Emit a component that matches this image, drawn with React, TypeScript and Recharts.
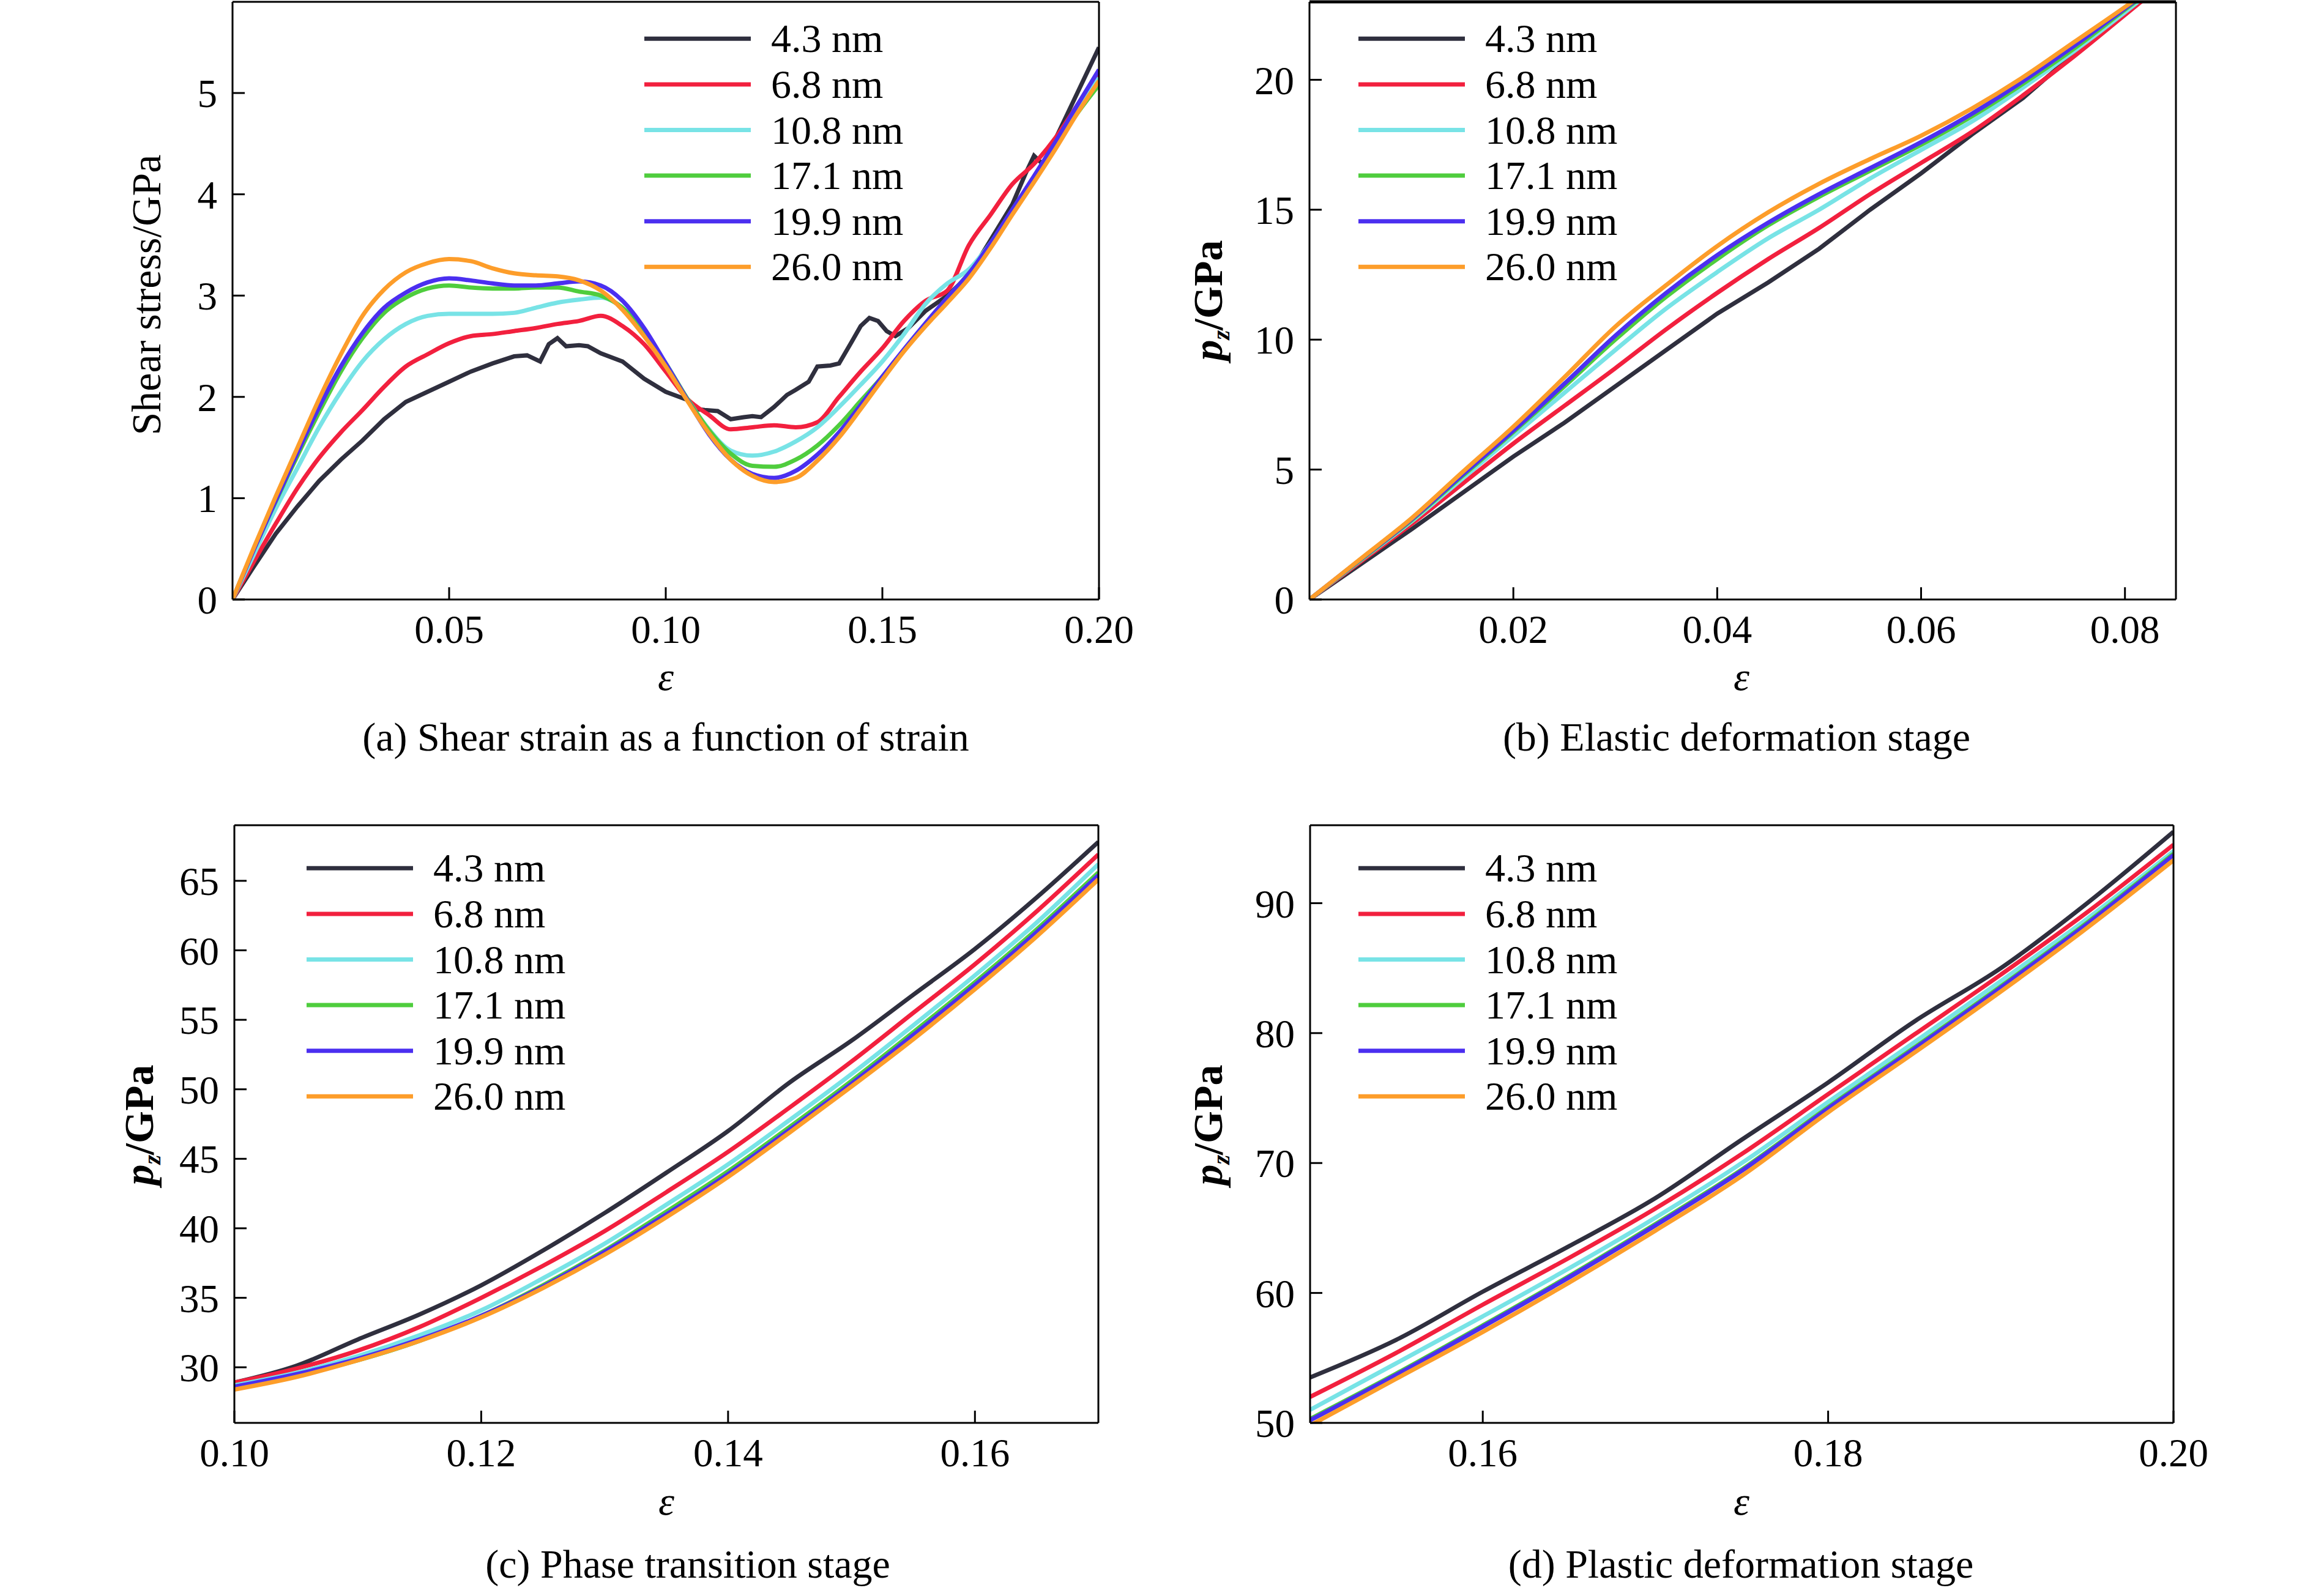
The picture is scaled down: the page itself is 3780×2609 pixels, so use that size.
import React from 'react';
import { LineChart, Line, XAxis, YAxis, Legend, ReferenceLine } from 'recharts';

const FONT = "'Liberation Serif', 'Times New Roman', Times, serif";

const seriesNames = ['4.3 nm', '6.8 nm', '10.8 nm', '17.1 nm', '19.9 nm', '26.0 nm'];
const seriesColors = ['#2f2f3e', '#f2203e', '#78e3e6', '#4fcd3d', '#4b2ff0', '#fd9d2a'];

// ---------- (a) shear stress vs strain ----------
const strainA = [0, 0.005, 0.01, 0.015, 0.02, 0.025, 0.03, 0.035, 0.04, 0.045, 0.05, 0.055, 0.06, 0.065, 0.07, 0.075, 0.08, 0.085, 0.09, 0.095, 0.1, 0.105, 0.11, 0.115, 0.12, 0.125, 0.13, 0.135, 0.14, 0.145, 0.15, 0.155, 0.16, 0.165, 0.17, 0.175, 0.18, 0.185, 0.19, 0.195, 0.2];
const strainA43 = [0, 0.005, 0.01, 0.015, 0.02, 0.025, 0.03, 0.035, 0.04, 0.045, 0.05, 0.055, 0.06, 0.065, 0.068, 0.071, 0.073, 0.075, 0.077, 0.08, 0.082, 0.085, 0.09, 0.095, 0.1, 0.105, 0.107, 0.109, 0.112, 0.115, 0.118, 0.12, 0.122, 0.125, 0.128, 0.13, 0.133, 0.135, 0.138, 0.14, 0.143, 0.145, 0.147, 0.149, 0.151, 0.153, 0.156, 0.16, 0.165, 0.17, 0.175, 0.18, 0.183, 0.185, 0.187, 0.19, 0.195, 0.2];
const shearA43 = [0, 0.33, 0.65, 0.92, 1.17, 1.38, 1.57, 1.78, 1.95, 2.05, 2.15, 2.25, 2.33, 2.4, 2.41, 2.35, 2.52, 2.58, 2.5, 2.51, 2.5, 2.43, 2.35, 2.18, 2.05, 1.97, 1.88, 1.87, 1.86, 1.78, 1.8, 1.81, 1.8, 1.9, 2.02, 2.07, 2.15, 2.3, 2.31, 2.33, 2.55, 2.7, 2.78, 2.75, 2.65, 2.6, 2.68, 2.85, 3.0, 3.2, 3.55, 3.9, 4.2, 4.38, 4.3, 4.55, 5.0, 5.45];
const shearA68 = [0, 0.38, 0.75, 1.1, 1.4, 1.65, 1.87, 2.1, 2.3, 2.42, 2.53, 2.6, 2.62, 2.65, 2.68, 2.72, 2.75, 2.8, 2.7, 2.52, 2.25, 1.98, 1.82, 1.68, 1.7, 1.72, 1.7, 1.75, 2.0, 2.25, 2.48, 2.75, 2.95, 3.05, 3.5, 3.8, 4.1, 4.3, 4.56, 4.88, 5.2];
const shearA108 = [0, 0.45, 0.9, 1.3, 1.7, 2.05, 2.35, 2.57, 2.72, 2.8, 2.82, 2.82, 2.82, 2.83, 2.88, 2.93, 2.96, 2.98, 2.88, 2.63, 2.33, 1.98, 1.68, 1.47, 1.42, 1.46, 1.56, 1.7, 1.9, 2.12, 2.35, 2.62, 2.92, 3.12, 3.26, 3.52, 3.84, 4.16, 4.5, 4.84, 5.15];
const shearA171 = [0, 0.5, 0.97, 1.42, 1.85, 2.25, 2.58, 2.83, 2.98, 3.07, 3.1, 3.08, 3.07, 3.07, 3.08, 3.08, 3.04, 3.0, 2.88, 2.64, 2.33, 1.98, 1.67, 1.44, 1.32, 1.31, 1.38, 1.52, 1.72, 1.96, 2.2, 2.46, 2.72, 2.98, 3.22, 3.5, 3.82, 4.14, 4.48, 4.8, 5.08];
const shearA199 = [0, 0.5, 0.98, 1.45, 1.9, 2.3, 2.63, 2.88, 3.03, 3.13, 3.17, 3.15, 3.12, 3.1, 3.1, 3.12, 3.14, 3.1, 2.95, 2.68, 2.33, 1.97, 1.63, 1.38, 1.24, 1.2, 1.27, 1.43, 1.65, 1.92, 2.2, 2.47, 2.73, 2.98, 3.22, 3.52, 3.85, 4.18, 4.52, 4.88, 5.23];
const shearA260 = [0, 0.52, 1.02, 1.5, 1.98, 2.42, 2.8, 3.06, 3.23, 3.32, 3.36, 3.34, 3.27, 3.22, 3.2, 3.19, 3.15, 3.05, 2.86, 2.6, 2.3, 1.96, 1.64, 1.38, 1.22, 1.16, 1.2, 1.37, 1.6, 1.88, 2.17, 2.45, 2.7, 2.93, 3.17, 3.47, 3.8, 4.12, 4.45, 4.8, 5.12];

// ---------- (b) elastic deformation stage ----------
const strainB = [0, 0.005, 0.01, 0.015, 0.02, 0.025, 0.03, 0.035, 0.04, 0.045, 0.05, 0.055, 0.06, 0.065, 0.07, 0.075, 0.08, 0.085];
const pzB43 = [0, 1.35, 2.7, 4.1, 5.5, 6.8, 8.2, 9.6, 11.0, 12.2, 13.5, 15.0, 16.4, 17.9, 19.3, 21.0, 22.6, 24.3];
const pzB68 = [0, 1.45, 2.9, 4.45, 6.0, 7.45, 8.9, 10.4, 11.8, 13.1, 14.3, 15.6, 16.8, 18.0, 19.4, 20.9, 22.5, 24.1];
const pzB108 = [0, 1.5, 3.0, 4.65, 6.3, 7.95, 9.6, 11.2, 12.6, 13.9, 15.0, 16.2, 17.3, 18.4, 19.7, 21.1, 22.6, 24.2];
const pzB171 = [0, 1.52, 3.05, 4.75, 6.45, 8.2, 10.0, 11.65, 13.1, 14.4, 15.5, 16.5, 17.5, 18.6, 19.85, 21.2, 22.7, 24.2];
const pzB199 = [0, 1.54, 3.08, 4.8, 6.5, 8.3, 10.15, 11.8, 13.25, 14.5, 15.6, 16.6, 17.6, 18.7, 19.95, 21.3, 22.75, 24.2];
const pzB260 = [0, 1.56, 3.12, 4.9, 6.65, 8.55, 10.5, 12.1, 13.6, 14.9, 16.0, 16.95, 17.85, 18.9, 20.1, 21.45, 22.8, 24.2];

// ---------- (c) phase transition stage ----------
const strainC = [0.1, 0.105, 0.11, 0.115, 0.12, 0.125, 0.13, 0.135, 0.14, 0.145, 0.15, 0.155, 0.16, 0.165, 0.17];
const pzC43 = [28.9, 30.1, 32.0, 33.8, 35.9, 38.4, 41.1, 44.0, 47.0, 50.5, 53.5, 56.8, 60.1, 63.8, 67.8];
const pzC68 = [28.9, 29.9, 31.2, 32.9, 35.0, 37.3, 39.8, 42.6, 45.5, 48.7, 52.0, 55.5, 59.0, 62.8, 66.9];
const pzC108 = [28.7, 29.6, 30.8, 32.3, 34.1, 36.4, 38.9, 41.7, 44.6, 47.8, 51.1, 54.6, 58.2, 62.0, 66.2];
const pzC171 = [28.6, 29.4, 30.5, 31.9, 33.7, 35.9, 38.4, 41.2, 44.1, 47.3, 50.6, 54.1, 57.7, 61.5, 65.6];
const pzC199 = [28.6, 29.5, 30.6, 32.0, 33.7, 35.8, 38.3, 41.0, 43.9, 47.1, 50.4, 53.9, 57.5, 61.3, 65.4];
const pzC260 = [28.4, 29.3, 30.5, 31.9, 33.6, 35.7, 38.1, 40.8, 43.7, 46.9, 50.2, 53.6, 57.2, 61.0, 65.1];

// ---------- (d) plastic deformation stage ----------
const strainD = [0.15, 0.155, 0.16, 0.165, 0.17, 0.175, 0.18, 0.185, 0.19, 0.195, 0.2];
const pzD43 = [53.5, 56.4, 60.1, 63.6, 67.3, 71.8, 76.2, 80.9, 85.0, 90.0, 95.5];
const pzD68 = [52.0, 55.4, 59.1, 62.7, 66.5, 70.7, 75.3, 79.9, 84.5, 89.3, 94.5];
const pzD108 = [51.0, 54.6, 58.2, 61.9, 65.8, 70.0, 74.7, 79.3, 84.0, 88.8, 94.0];
const pzD171 = [50.3, 53.8, 57.5, 61.3, 65.3, 69.5, 74.3, 78.9, 83.6, 88.5, 93.8];
const pzD199 = [50.2, 53.7, 57.4, 61.2, 65.2, 69.4, 74.2, 78.8, 83.5, 88.4, 93.7];
const pzD260 = [49.8, 53.4, 57.0, 60.8, 64.8, 69.0, 73.9, 78.5, 83.2, 88.1, 93.3];

// ---------- ticks & captions ----------
const xTicksA = [0.05, 0.1, 0.15, 0.2];
const yTicksA = [0, 1, 2, 3, 4, 5];
const xTicksB = [0.02, 0.04, 0.06, 0.08];
const yTicksB = [0, 5, 10, 15, 20];
const xTicksC = [0.1, 0.12, 0.14, 0.16];
const yTicksC = [30, 35, 40, 45, 50, 55, 60, 65];
const xTicksD = [0.16, 0.18, 0.2];
const yTicksD = [50, 60, 70, 80, 90];

const captionA = '(a) Shear strain as a function of strain';
const captionB = '(b) Elastic deformation stage';
const captionC = '(c) Phase transition stage';
const captionD = '(d) Plastic deformation stage';

type S = { xs: number[]; ys: number[]; curve: 'linear' | 'monotone' };

const zip = (xs: number[], ys: number[]) => xs.map((x, i) => ({ x, y: ys[i] }));

const seriesA: S[] = [
  { xs: strainA43, ys: shearA43, curve: 'linear' },
  { xs: strainA, ys: shearA68, curve: 'monotone' },
  { xs: strainA, ys: shearA108, curve: 'monotone' },
  { xs: strainA, ys: shearA171, curve: 'monotone' },
  { xs: strainA, ys: shearA199, curve: 'monotone' },
  { xs: strainA, ys: shearA260, curve: 'monotone' },
];
const seriesB: S[] = [pzB43, pzB68, pzB108, pzB171, pzB199, pzB260].map((ys, i) => ({ xs: strainB, ys, curve: i === 0 ? 'linear' : 'monotone' }));
const seriesC: S[] = [pzC43, pzC68, pzC108, pzC171, pzC199, pzC260].map((ys) => ({ xs: strainC, ys, curve: 'monotone' }));
const seriesD: S[] = [pzD43, pzD68, pzD108, pzD171, pzD199, pzD260].map((ys) => ({ xs: strainD, ys, curve: 'monotone' }));

const FS = 65;
const RIGHT = 80;

function LegendBox() {
  const rowH = 74.6;
  return (
    <svg width={480} height={rowH * 6} style={{ display: 'block', overflow: 'visible' }}>
      {seriesNames.map((name, i) => {
        const cy = rowH / 2 + i * rowH;
        return (
          <g key={name}>
            <line x1={0} x2={174} y1={cy} y2={cy} stroke={seriesColors[i]} strokeWidth={7} />
            <text x={207} y={cy + 22} fontFamily={FONT} fontSize={66} fill="#000">{name}</text>
          </g>
        );
      })}
    </svg>
  );
}

function YLabelSvg({ x, y, kind }: { x: number; y: number; kind: 'shear' | 'pz' }) {
  const k = 21;
  if (kind === 'shear') {
    return (
      <text x={x} y={y + k} transform={`rotate(-90 ${x} ${y})`} textAnchor="middle" fontFamily={FONT} fontSize={68} fill="#000">
        Shear stress/GPa
      </text>
    );
  }
  return (
    <text x={x} y={y + k} transform={`rotate(-90 ${x} ${y})`} textAnchor="middle" fontFamily={FONT} fontSize={68} fontWeight="bold" fill="#000">
      <tspan fontStyle="italic">p</tspan>
      <tspan fontStyle="italic" fontSize={40} dy={12}>z</tspan>
      <tspan dy={-12}>/GPa</tspan>
    </text>
  );
}

type PanelProps = {
  left: number; top: number; width: number; height: number;
  mt: number; yAxisW: number; xAxisH: number;
  xDomain: [number, number]; yDomain: [number, number];
  xTicks: number[]; yTicks: number[];
  series: S[];
  yKind: 'shear' | 'pz'; yLabX: number; yLabY: number;
  legX: number; legY: number;
  epsX: number; epsY: number;
  caption: string; capX: number; capY: number;
  topBorder: number;
};

function Panel(p: PanelProps) {
  const axisStyle = { stroke: '#000', strokeWidth: 3 };
  const tickStyle = { fontSize: FS, fontFamily: FONT, fill: '#000' };
  return (
    <div style={{ position: 'absolute', left: p.left, top: p.top }}>
      <LineChart width={p.width} height={p.height} margin={{ top: p.mt, right: RIGHT, left: 0, bottom: 0 }}>
        <XAxis
          xAxisId="main"
          dataKey="x"
          type="number"
          domain={p.xDomain}
          ticks={p.xTicks}
          interval={0}
          allowDataOverflow
          height={p.xAxisH}
          tickFormatter={(v: number) => v.toFixed(2)}
          axisLine={axisStyle}
          tickLine={axisStyle}
          tickSize={-20}
          tickMargin={45}
          tick={tickStyle}
          label={() => (
            <g>
              <text x={p.epsX} y={p.epsY} textAnchor="middle" fontFamily={FONT} fontStyle="italic" fontSize={66} fill="#000">ε</text>
              <text x={p.capX} y={p.capY} textAnchor="middle" fontFamily={FONT} fontSize={66} fill="#000">{p.caption}</text>
            </g>
          )}
        />
        <YAxis
          yAxisId="main"
          type="number"
          domain={p.yDomain}
          ticks={p.yTicks}
          interval={0}
          allowDataOverflow
          width={p.yAxisW}
          axisLine={axisStyle}
          tickLine={axisStyle}
          tickSize={-20}
          tickMargin={45}
          tick={tickStyle}
          label={() => <YLabelSvg x={p.yLabX} y={p.yLabY} kind={p.yKind} />}
        />
        <Legend
          layout="vertical"
          align="center"
          verticalAlign="middle"
          wrapperStyle={{ left: p.legX, top: p.legY, width: 480, height: 448 }}
          content={() => <LegendBox />}
        />
        {p.series.map((s, i) => (
          <Line
            key={seriesNames[i]}
            name={seriesNames[i]}
            xAxisId="main"
            yAxisId="main"
            data={zip(s.xs, s.ys)}
            dataKey="y"
            type={s.curve}
            stroke={seriesColors[i]}
            strokeWidth={7}
            dot={false}
            activeDot={false}
            isAnimationActive={false}
          />
        ))}
        <ReferenceLine xAxisId="main" yAxisId="main" y={p.yDomain[1]} stroke="#000" strokeWidth={p.topBorder} ifOverflow="visible" />
        <ReferenceLine xAxisId="main" yAxisId="main" x={p.xDomain[1]} stroke="#000" strokeWidth={3} ifOverflow="visible" />
      </LineChart>
    </div>
  );
}

export default function App() {
  return (
    <div style={{ position: 'absolute', left: 0, top: 0, width: 3780, height: 2609, background: '#fff', overflow: 'hidden' }}>
      <Panel
        left={0} top={0} width={380 + 1416 + RIGHT} height={1280}
        mt={3} yAxisW={380} xAxisH={300}
        xDomain={[0, 0.2]} yDomain={[0, 5.9]} xTicks={xTicksA} yTicks={yTicksA}
        series={seriesA}
        yKind="shear" yLabX={241} yLabY={482}
        legX={1053} legY={25.7}
        epsX={1088} epsY={1128}
        caption={captionA} capX={1088} capY={1227}
        topBorder={3}
      />
      <Panel
        left={1840} top={0} width={300 + 1416 + RIGHT} height={1280}
        mt={3} yAxisW={300} xAxisH={300}
        xDomain={[0, 0.085]} yDomain={[0, 23]} xTicks={xTicksB} yTicks={yTicksB}
        series={seriesB}
        yKind="pz" yLabX={136} yLabY={491}
        legX={380} legY={25.7}
        epsX={1006} epsY={1128}
        caption={captionB} capX={998} capY={1227}
        topBorder={5}
      />
      <Panel
        left={0} top={1329} width={383 + 1412 + RIGHT} height={1280}
        mt={20} yAxisW={383} xAxisH={283}
        xDomain={[0.1, 0.17]} yDomain={[26, 69]} xTicks={xTicksC} yTicks={yTicksC}
        series={seriesC}
        yKind="pz" yLabX={229} yLabY={510}
        legX={501} legY={52.7}
        epsX={1089} epsY={1147}
        caption={captionC} capX={1124} capY={1250}
        topBorder={3}
      />
      <Panel
        left={1840} top={1329} width={301 + 1411 + RIGHT} height={1280}
        mt={20} yAxisW={301} xAxisH={283}
        xDomain={[0.15, 0.2]} yDomain={[50, 96]} xTicks={xTicksD} yTicks={yTicksD}
        series={seriesD}
        yKind="pz" yLabX={136} yLabY={510}
        legX={380} legY={52.7}
        epsX={1006} epsY={1147}
        caption={captionD} capX={1005} capY={1250}
        topBorder={3}
      />
    </div>
  );
}
